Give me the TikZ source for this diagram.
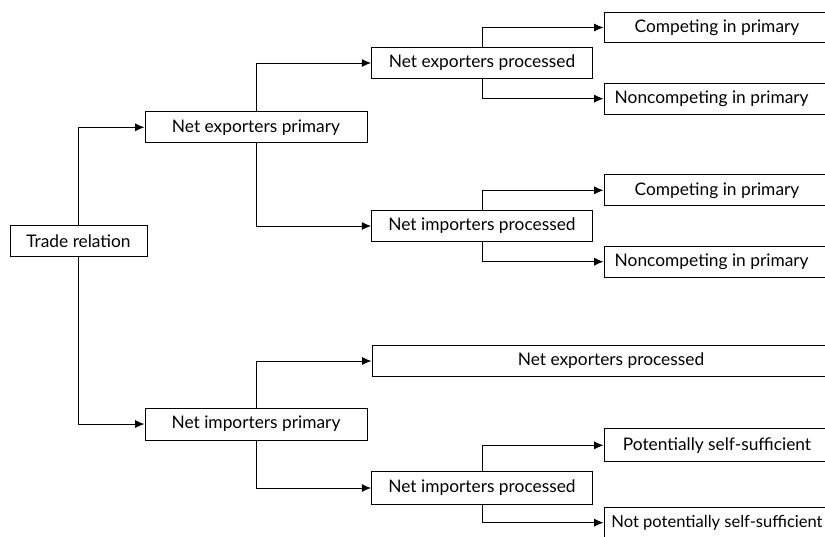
\documentclass[tikz,border=0pt]{standalone}
\usepackage{fontspec}
\setmainfont{Lato}
\usetikzlibrary{arrows.meta}
\tikzset{
  box/.style={draw=black, line width=0.75pt, fill=white, minimum height=23pt, inner sep=0pt, font=\fontsize{13pt}{15pt}\selectfont, anchor=center},
  conn/.style={line width=0.75pt, -{Latex[length=7pt,width=6pt]}}
}
\begin{document}
\begin{tikzpicture}[x=0.75pt,y=-0.75pt]
\clip (0,0) rectangle (825,536);
\fill[white] (0,0) rectangle (825,536);
\node[box, minimum width=102.75pt] (tr) at (78.5,241) {Trade relation};
\node[box, minimum width=166.5pt] (nep) at (256,127.3) {Net exporters primary};
\node[box, minimum width=166.5pt, minimum height=24pt] (nip) at (256,424) {Net importers primary};
\node[box, minimum width=165.5pt] (nepp) at (482,63) {Net exporters processed};
\node[box, minimum width=165.5pt] (nipp) at (482,226) {Net importers processed};
\node[box, minimum width=358.5pt] (neppw) at (611,361) {Net exporters processed};
\node[box, minimum width=165.5pt, minimum height=24.5pt] (nipp2) at (482,488) {Net importers processed};
\node[box, minimum width=169.5pt] (c1) at (717,27.5) {Competing in primary};
\node[box, minimum width=169.5pt] (nc1) at (717,98.7) {\hspace*{-8pt}Noncompeting in primary};
\node[box, minimum width=169.5pt] (c2) at (717,190.3) {Competing in primary};
\node[box, minimum width=169.5pt] (nc2) at (717,261.7) {\hspace*{-8pt}Noncompeting in primary};
\node[box, minimum width=169.5pt, minimum height=24.5pt] (ps) at (717,445.3) {Potentially self-sufficient};
\node[box, minimum width=169.5pt, font=\fontsize{12.4pt}{15pt}\selectfont] (nps) at (717,522.7) {Not potentially self-sufficient};
\draw[conn] (tr.north) |- (nep.west);
\draw[conn] (tr.south) |- (nip.west);
\draw[conn] (nep.north) |- (nepp.west);
\draw[conn] (nep.south) |- (nipp.west);
\draw[conn] (nip.north) |- (neppw.west);
\draw[conn] (nip.south) |- (nipp2.west);
\draw[conn] (nepp.north) |- (c1.west);
\draw[conn] (nepp.south) |- (nc1.west);
\draw[conn] (nipp.north) |- (c2.west);
\draw[conn] (nipp.south) |- (nc2.west);
\draw[conn] (nipp2.north) |- (ps.west);
\draw[conn] (nipp2.south) |- (nps.west);
\end{tikzpicture}
\end{document}
